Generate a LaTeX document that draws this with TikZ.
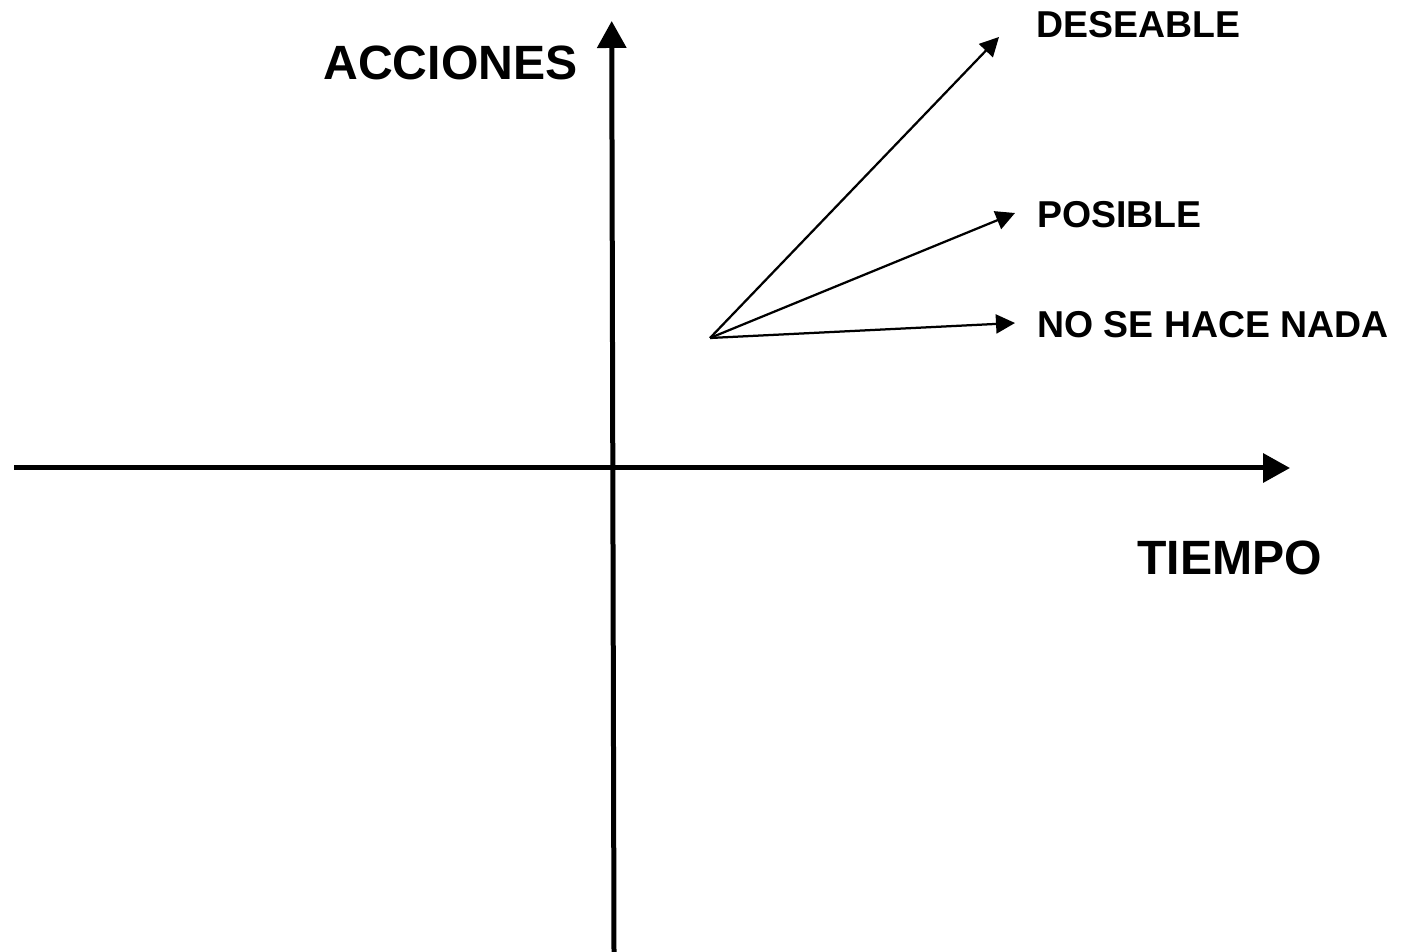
\documentclass[tikz,border=0pt]{standalone}
\usepackage{fontspec}
\setmainfont{Liberation Sans}
\usetikzlibrary{arrows.meta}
\begin{document}
\begin{tikzpicture}[x=0.02cm,y=-0.02cm,
  axis/.style={line width=0.1cm,-{Triangle[length=0.54cm,width=0.57cm]}},
  option/.style={line width=0.045cm,-{Triangle[length=0.38cm,width=0.38cm]}},
  biglabel/.style={anchor=base west,inner sep=0pt,font=\fontsize{27.4pt}{30pt}\selectfont\bfseries},
  smalllabel/.style={anchor=base west,inner sep=0pt,font=\fontsize{21.3pt}{24pt}\selectfont\bfseries}]
\useasboundingbox (0,0) rectangle (1403,952);
% axes
\coordinate (xs) at (14,468);
\coordinate (xe) at (1290,468);
\coordinate (ys) at (614,952);
\coordinate (ye) at (611.7,21);
\draw[axis] (xs) -- (xe);
\draw[axis] (ys) -- (ye);
% labels
\node[biglabel] (acc) at (323,80) {ACCIONES};
\node[biglabel] (tie) at (1137,575) {TIEMPO};
\node[smalllabel] (des) at (1036,38) {DESEABLE};
\node[smalllabel] (pos) at (1037,228) {POSIBLE};
\node[smalllabel] (nada) at (1037,338) {NO SE HACE NADA};
% options
\coordinate (o) at (710,338);
\coordinate (tdes) at (999,37);
\coordinate (tpos) at (1015,213);
\coordinate (tnada) at (1015,323);
\draw[option] (o) -- (tdes);
\draw[option] (o) -- (tpos);
\draw[option] (o) -- (tnada);
\end{tikzpicture}
\end{document}
